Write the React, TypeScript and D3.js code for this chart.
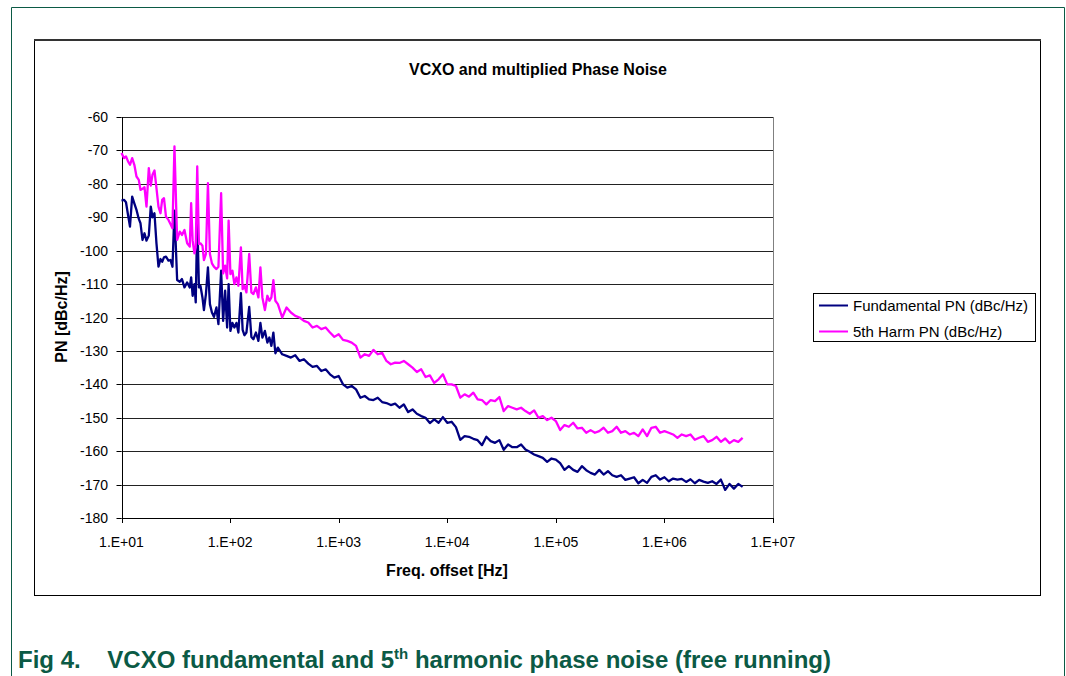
import React from 'react';
import * as d3 from 'd3';

// ---------- data ----------
const freqLowHz = [
  10, 10.54, 11.0, 11.48, 11.97, 12.54, 13.17, 13.74, 14.43, 14.96,
  15.61, 16.28, 16.99, 17.84, 18.6, 19.29, 20.12, 20.99, 21.9, 22.85,
  23.69, 24.61, 25.68, 27.07, 28.24, 29.47, 30.74, 32.54, 34.4, 36.04,
  38.0, 40.24, 42.51, 43.79, 45.2, 46.96, 48.27, 49.83, 51.66, 53.33,
  55.64, 57.43, 59.92, 62.52, 65.23, 68.04, 71.0, 74.86, 78.1, 82.7,
  86.28, 90.02, 93.91, 96.94, 100.7, 105.1, 109.6, 114.4, 119.3, 125.8,
  130.5, 135.5, 141.4, 150.0, 157.1, 163.9, 172.9, 182.3, 190.2, 198.4,
  209.2, 220.5, 230.1, 240.1, 250.5, 261.3, 275.5,
];
const freqHighHz = [
  302, 331.1, 363.1, 398.1, 436.5, 478.6, 524.8, 575.4, 631, 691.8, 758.6, 831.8, 912,
  1000, 1096, 1202, 1318, 1445, 1585, 1738, 1905, 2089, 2291, 2512, 2754, 3020, 3311,
  3631, 3981, 4365, 4786, 5248, 5754, 6310, 6918, 7586, 8318, 9120,
  10000, 10960, 12020, 13180, 14450, 15850, 17380, 19050, 20890, 22910, 25120, 27540,
  30200, 33110, 36310, 39810, 43650, 47860, 52480, 57540, 63100, 69180, 75860, 83180, 91200,
  100000, 109600, 120200, 131800, 144500, 158500, 173800, 190500, 208900, 229100, 251200,
  275400, 302000, 331100, 363100, 398100, 436500, 478600, 524800, 575400, 631000, 691800,
  758600, 831800, 912000,
  1000000, 1096000, 1202000, 1318000, 1445000, 1585000, 1738000, 1905000, 2089000, 2291000,
  2512000, 2754000, 3020000, 3311000, 3631000, 3981000, 4365000, 4786000, 5248000,
];

const fundamentalLow = [
  -85, -84.8, -85.5, -89.3, -92.8, -83.8, -86, -87.8, -90.5, -91.8,
  -96.8, -94.8, -97, -95.5, -86.8, -90, -88.8, -97.8, -104.8, -102.5,
  -103.3, -102, -101.8, -103, -102.8, -104.8, -88, -108.8, -109.3, -108.5,
  -111, -109.5, -111, -108, -113.5, -110, -115.5, -90, -111, -110.5,
  -114, -117.8, -113, -105, -116, -118.5, -119.8, -117, -122, -106,
  -121, -112, -123, -110, -124, -121.6, -123, -121.6, -124.5, -112.7,
  -123.7, -125.3, -124.5, -116.8, -125.8, -126.5, -124.5, -127, -121.6, -126,
  -124, -127.5, -126, -128.5, -124.5, -130.7, -129,
];
const fundamentalHigh = [
  -131, -131.5, -132, -131.3, -133, -132.5, -133.8, -134.8, -134.5, -136, -135.5, -137, -138,
  -137.5, -140, -141, -140.5, -141.5, -144, -143.5, -144.5, -144.7, -144, -145.3, -145.6, -146.2,
  -145.8, -147, -146, -148.3, -147.5, -148.8, -149.5, -150, -151.6, -150.5, -151.5, -149.8,
  -151.5, -151.2, -152.8, -156.6, -155.5, -155.7, -156.3, -156.7, -158.2, -155.7, -157, -157.5,
  -156.7, -159.6, -158, -158.8, -158.8, -158, -159.5, -160.2, -161, -161.5, -162, -163.2, -162.2,
  -162.5, -163.6, -165.6, -164.5, -165.6, -166.2, -164.5, -165.7, -166.5, -167, -165.6,
  -167, -166, -167.2, -167.7, -167.2, -168.6, -168.2, -167.8, -169.6, -168.6, -169.5,
  -167.7, -167.2, -168.5,
  -167.8, -169, -168.2, -168.5, -168.3, -169.2, -168.4, -169.6, -168.6, -169.1,
  -169.5, -169, -169.8, -168.5, -171.6, -169.8, -171.2, -169.8, -170.7,
];

const harmonicLow = [
  -70.8, -72.3, -71.8, -73.3, -74.3, -72.3, -74.5, -77.8, -78.8, -81.8,
  -81.5, -81, -86.8, -75.3, -80.5, -77.3, -76, -81.3, -86.8, -88.8,
  -84.8, -84.3, -89.8, -90.8, -92, -93.3, -68.8, -96.8, -94.3, -95.3,
  -93.8, -97.8, -98.8, -85.8, -97, -100.8, -99, -74.8, -98, -97.8,
  -98.5, -102.8, -101, -79.8, -101, -103.8, -104.8, -105.5, -104.8, -82.8,
  -106.8, -104.5, -108.3, -91, -107, -106, -110, -108, -110.5, -99,
  -111.5, -110.5, -112.5, -101, -112.5, -113, -111, -114, -105, -114,
  -117.8, -113.5, -115, -114, -108.8, -115, -116,
];
const harmonicHigh = [
  -120, -117, -118.5, -119.5, -120, -121, -121.5, -123, -122.5, -123.5, -123, -124.5, -125.8,
  -125, -126.7, -127, -127.5, -128.5, -132, -131, -131.5, -129.7, -131, -130.6, -133, -134,
  -133.5, -133.6, -133, -134, -135, -136.3, -135.5, -137.8, -137.3, -139.6, -138.5, -137,
  -140, -140, -140.5, -144, -143, -143.7, -142.5, -144.5, -144.7, -146, -144.7, -145,
  -143.8, -148, -146.5, -147, -147.5, -147, -148, -148.8, -147.8, -150, -149.5, -150.7, -150,
  -151, -153.7, -152.2, -152.7, -151.5, -153.2, -153, -154.5, -153.7, -154.5, -154,
  -153, -154.5, -154, -152.7, -154.5, -154, -155, -154.5, -155.5, -153.5, -155.5,
  -153, -152.7, -154.5,
  -154, -154.5, -155, -156, -155, -155.5, -155, -156.6, -156, -155.5,
  -157.2, -156.7, -155.7, -157.2, -156.2, -157.6, -156.7, -157.2, -156,
];

const yTicks = [-60, -70, -80, -90, -100, -110, -120, -130, -140, -150, -160, -170, -180];
const xTicks = [1e1, 1e2, 1e3, 1e4, 1e5, 1e6, 1e7];
const xTickLabels = ['1.E+01', '1.E+02', '1.E+03', '1.E+04', '1.E+05', '1.E+06', '1.E+07'];

const seriesNames = ['Fundamental PN (dBc/Hz)', '5th Harm PN (dBc/Hz)'];
const seriesColors = ['#000080', '#FF00FF'];

// ---------- component ----------
export default function App() {
  const W = 1066;
  const H = 676;
  const left = 121.5;
  const right = 773;
  const top = 117;
  const bottom = 518;

  const x = d3.scaleLog().domain([1e1, 1e7]).range([left, right]);
  const y = d3.scaleLinear().domain([-180, -60]).range([bottom, top]);

  const freqs = [...freqLowHz, ...freqHighHz];
  const fund = [...fundamentalLow, ...fundamentalHigh];
  const harm = [...harmonicLow, ...harmonicHigh];

  const mk = (vals: number[]) =>
    d3
      .line<number>()
      .x((_, i) => x(freqs[i]))
      .y((v) => y(v))(vals) || '';

  const font = 'Arial, "Liberation Sans", Helvetica, sans-serif';
  const green = '#0b5a45';
  const crisp = (v: number) => Math.round(v) + 0.5;

  return (
    <svg
      width={W}
      height={H}
      style={{ position: 'absolute', left: 0, top: 0, background: '#fff' }}
      fontFamily={font}
    >
      {/* document frame */}
      <line x1={11.5} y1={7.5} x2={1064.5} y2={7.5} stroke={green} strokeWidth={1} />
      <line x1={11.5} y1={7.5} x2={11.5} y2={H} stroke={green} strokeWidth={1} />
      <line x1={1064.5} y1={7.5} x2={1064.5} y2={H} stroke={green} strokeWidth={1} />

      {/* chart area box */}
      <rect x={34.5} y={40.5} width={1006} height={555} fill="#fff" stroke="#000" strokeWidth={1} />
      <line x1={34} y1={40} x2={1041} y2={40} stroke="#333" strokeWidth={2} />

      {/* title */}
      <text x={538} y={75} textAnchor="middle" fontSize={16} fontWeight="bold">
        VCXO and multiplied Phase Noise
      </text>

      {/* gridlines */}
      {yTicks.slice(0, -1).map((t) => (
        <line key={t} x1={left} x2={right} y1={crisp(y(t))} y2={crisp(y(t))} stroke="#222" strokeWidth={1} />
      ))}
      {/* plot right border */}
      <line x1={crisp(right)} x2={crisp(right)} y1={top} y2={bottom} stroke="#808080" strokeWidth={1} />

      {/* y axis */}
      <line x1={crisp(left)} x2={crisp(left)} y1={top} y2={bottom + 0.5} stroke="#000" strokeWidth={1} />
      {yTicks.map((t) => (
        <g key={t}>
          <line x1={left - 5} x2={left} y1={crisp(y(t))} y2={crisp(y(t))} stroke="#000" />
          <text x={108} y={y(t)} dy="0.36em" textAnchor="end" fontSize={14}>
            {t}
          </text>
        </g>
      ))}

      {/* x axis */}
      <line x1={left} x2={right} y1={crisp(bottom)} y2={crisp(bottom)} stroke="#000" strokeWidth={1} />
      {xTicks.map((t, i) => (
        <g key={t}>
          <line x1={crisp(x(t))} x2={crisp(x(t))} y1={bottom} y2={bottom + 5} stroke="#000" />
          <text x={x(t)} y={547} textAnchor="middle" fontSize={14}>
            {xTickLabels[i]}
          </text>
        </g>
      ))}

      {/* axis titles */}
      <text x={447} y={576} textAnchor="middle" fontSize={16} fontWeight="bold">
        Freq. offset [Hz]
      </text>
      <text
        transform={`translate(67,317) rotate(-90)`}
        textAnchor="middle"
        fontSize={16}
        fontWeight="bold"
      >
        PN [dBc/Hz]
      </text>

      {/* series */}
      <path d={mk(fund)} fill="none" stroke={seriesColors[0]} strokeWidth={2.3} strokeLinejoin="round" />
      <path d={mk(harm)} fill="none" stroke={seriesColors[1]} strokeWidth={2.3} strokeLinejoin="round" />

      {/* legend */}
      <rect x={813.5} y={293.5} width={222} height={48} fill="#fff" stroke="#000" strokeWidth={1} />
      {seriesNames.map((n, i) => (
        <g key={n}>
          <line x1={819} x2={848} y1={305.5 + i * 26} y2={305.5 + i * 26} stroke={seriesColors[i]} strokeWidth={2} />
          <text x={853} y={305.5 + i * 26} dy="0.36em" fontSize={15}>
            {n}
          </text>
        </g>
      ))}

      {/* caption */}
      <text x={18} y={668} fontSize={24} fontWeight="bold" fill={green}>
        Fig 4.{'\u00A0\u00A0\u00A0\u00A0'}VCXO fundamental and 5
        <tspan fontSize={15} dy={-9}>th</tspan>
        <tspan dy={9}> harmonic phase noise (free running)</tspan>
      </text>
    </svg>
  );
}
